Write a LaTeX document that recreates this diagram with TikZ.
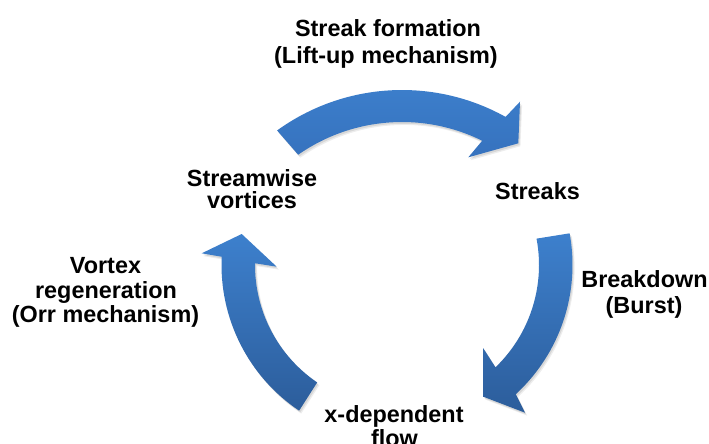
\documentclass[tikz,border=0pt]{standalone}
\usepackage{fontspec}
\setmainfont{Liberation Sans}
\usetikzlibrary{calc,shadows}
\definecolor{arrlight}{RGB}{61,128,205}
\definecolor{arrdark}{RGB}{44,93,155}
\definecolor{arrtopdark}{RGB}{54,114,190}
\tikzset{
  lbl/.style={font=\bfseries\fontsize{17.55pt}{20pt}\selectfont, anchor=base, inner sep=0pt, text=black},
  cyclearrow/.style={draw=none,
    drop shadow={shadow xshift=1.6pt, shadow yshift=-2.2pt, opacity=0.07, fill=black},
    drop shadow={shadow xshift=0.9pt, shadow yshift=-1.3pt, opacity=0.09, fill=black}},
}
\begin{document}
\begin{tikzpicture}[x=0.75pt,y=-0.75pt]
\useasboundingbox (0,0) rectangle (709,443);
\clip (0,0) rectangle (709,443);
\fill[white] (0,0) rectangle (709,443);
% centres of the arcs
\coordinate (ct) at (402,303);
\coordinate (cs) at (397,265);
% heads
\coordinate (tA) at (520,101.7);
\coordinate (tT) at (518.3,143.3);
\coordinate (tB) at (468.3,157.3);
\coordinate (rA) at (525,412.7);
\coordinate (rT) at (483.3,396.7);
\coordinate (rB) at (483.3,348.3);
\coordinate (lA) at (201.7,253.3);
\coordinate (lT) at (241.7,234);
\coordinate (lB) at (276.7,266.7);
% top arrow
\path[cyclearrow, top color=arrlight, bottom color=arrtopdark]
  ($(ct)+(-125.9:213)$) arc[start angle=-125.9, end angle=-60.9, radius=213]
  -- (tA) -- (tT) -- (tB)
  -- ($(ct)+(-63.7:181)$) arc[start angle=-63.7, end angle=-125.0, radius=181] -- cycle;
% right arrow
\path[cyclearrow, top color=arrlight, bottom color=arrdark]
  ($(cs)+(-10.4:175.5)$) arc[start angle=-10.4, end angle=47.4, radius=175.5]
  -- (rA) -- (rT) -- (rB)
  -- ($(cs)+(46.1:142)$) arc[start angle=46.1, end angle=-10.7, radius=142] -- cycle;
% left arrow
\path[cyclearrow, top color=arrlight, bottom color=arrdark]
  ($(cs)+(123.9:175.5)$) arc[start angle=123.9, end angle=182.7, radius=175.5]
  -- (lA) -- (lT) -- (lB)
  -- ($(cs)+(180.7:142)$) arc[start angle=180.7, end angle=124.2, radius=142] -- cycle;
% labels
\node[lbl] (sf1) at (388,36) {Streak formation};
\node[lbl] (sf2) at (386,63) {(Lift-up mechanism)};
\node[lbl] (sv1) at (252,186) {Streamwise};
\node[lbl] (sv2) at (252,208) {vortices};
\node[lbl] (st) at (537.5,199) {Streaks};
\node[lbl] (bd1) at (644.5,287) {Breakdown};
\node[lbl] (bd2) at (644,313) {(Burst)};
\node[lbl] (xd1) at (394,422) {x-dependent};
\node[lbl] (xd2) at (394.5,446) {flow};
\node[lbl] (vr1) at (105.5,273) {Vortex};
\node[lbl] (vr2) at (106,298) {regeneration};
\node[lbl] (vr3) at (105.5,322.5) {(Orr mechanism)};
\end{tikzpicture}
\end{document}
